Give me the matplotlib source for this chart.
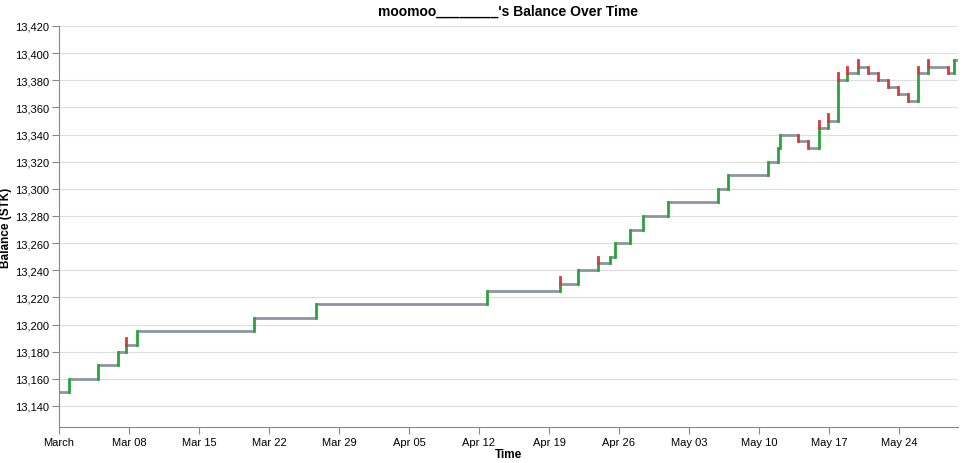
import matplotlib.pyplot as plt

# days since March 1, balance before, balance after, spike high (None = no spike)
day = [1.0, 3.9, 5.9, 6.7, 7.8, 19.5, 25.7, 42.8, 50.1, 51.9, 53.9, 55.1, 55.6, 57.1,
       58.4, 60.9, 65.9, 66.9, 70.9, 71.9, 72.1, 73.9, 74.9, 76.0, 76.9, 77.9, 78.8,
       79.9, 80.9, 81.9, 82.9, 83.9, 84.9, 85.9, 86.9, 88.9, 89.5]
after = [13160, 13170, 13180, 13185, 13195, 13205, 13215, 13225, 13230, 13240, 13245,
         13250, 13260, 13270, 13280, 13290, 13300, 13310, 13320, 13330, 13340, 13335,
         13330, 13345, 13350, 13380, 13385, 13390, 13385, 13380, 13375, 13370, 13365,
         13385, 13390, 13385, 13395]
spike = [None, None, None, 13190, None, None, None, None, 13235, None, 13250, None, None,
         None, None, None, None, None, None, None, None, None, None, 13350, 13355, 13385,
         13390, 13395, None, None, None, None, None, 13390, 13395, None, None]
start_day, start_val, end_day = 0.0, 13150, 89.9

tick_days = [0, 7, 14, 21, 28, 35, 42, 49, 56, 63, 70, 77, 84]
tick_labels = ["March", "Mar 08", "Mar 15", "Mar 22", "Mar 29", "Apr 05", "Apr 12",
               "Apr 19", "Apr 26", "May 03", "May 10", "May 17", "May 24"]

plt.rcParams['font.family'] = ['Liberation Sans', 'DejaVu Sans']
fig = plt.figure(figsize=(9.65, 4.64), dpi=100)
ax = fig.add_axes([59 / 965, 36 / 464, 899 / 965, 401 / 464])

grey, green, red = "#8c96a2", "#2aa33f", "#d63b3b"
prev_d, prev_v = start_day, start_val
for d, v, s in zip(day, after, spike):
    ax.plot([prev_d, d], [prev_v, prev_v], color=grey, lw=2, solid_capstyle="butt", zorder=2)
    ax.plot([d, d], [prev_v, v], color=green if v > prev_v else red, lw=2, zorder=3)
    if s is not None:
        ax.plot([d, d], [v, s], color=red, lw=2, zorder=3)
    prev_d, prev_v = d, v
ax.plot([prev_d, end_day], [prev_v, prev_v], color=grey, lw=2, zorder=2)

ax.set_xlim(0, end_day)
ax.set_ylim(13124.5, 13420)
ax.set_yticks(range(13140, 13421, 20))
ax.set_yticklabels([f"{v:,}" for v in range(13140, 13421, 20)], fontsize=8)
ax.set_xticks(tick_days)
ax.set_xticklabels(tick_labels, fontsize=8)
ax.grid(axis="y", color="#dddddd", lw=0.8)
ax.set_axisbelow(True)
for sp in ["top", "right"]:
    ax.spines[sp].set_visible(False)
for sp in ["left", "bottom"]:
    ax.spines[sp].set_color("#888888")
ax.tick_params(colors="#888888", labelcolor="black", length=5, pad=2)
ax.set_xlabel("Time", fontsize=8.5, fontweight="bold")
ax.set_ylabel("Balance (STK)", fontsize=8.5, fontweight="bold")
ax.xaxis.set_label_coords(0.5, -0.052)
ax.yaxis.set_label_coords(-0.052, 0.5)
ax.set_title("moomoo________'s Balance Over Time", fontsize=10, fontweight="bold", pad=8)

plt.savefig("out.png")
